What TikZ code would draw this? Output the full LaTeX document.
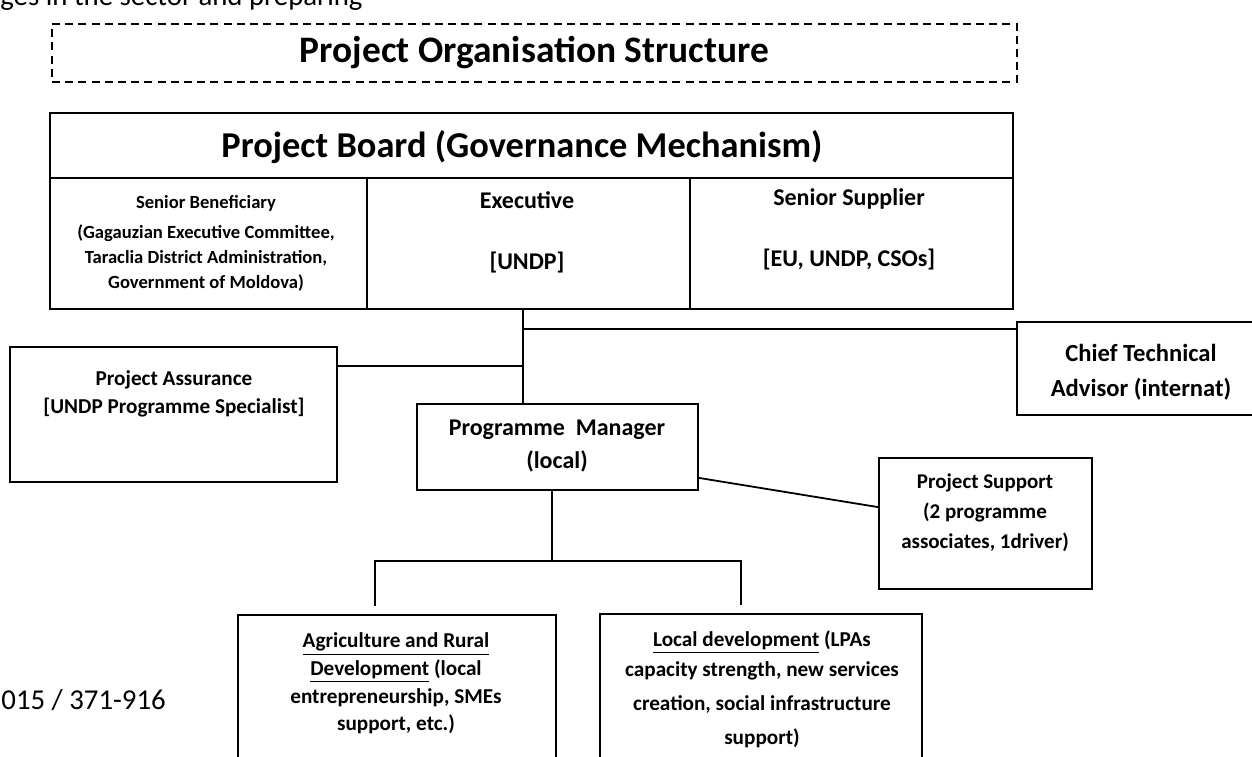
\documentclass[tikz,border=0pt]{standalone}
\usepackage{fontspec}
\setmainfont{Carlito}
\begin{document}
\begin{tikzpicture}[x=0.5pt,y=-0.5pt]

% one pixel of the scanned page
\def\px{0.5pt}
% node style definition
\tikzstyle{box} = [
	draw, rectangle, line width=0.9pt, inner sep=0pt ];
\tikzstyle{dashbox} = [box, dash pattern=on 4pt off 2.6pt];
\tikzstyle{plain} = [draw=none, fill=none, align=center, inner sep=0pt];
\tikzstyle{conn} = [line width=0.9pt];

\useasboundingbox (0,0) rectangle (1252,756);
\clip (0,0) rectangle (1252,756);

% bits of the page text around the chart
\node[plain, anchor=base west, font=\fontsize{14.4}{17}\selectfont] (pagetop) at (0,5) {ges in the sector and preparing};
\node[plain, anchor=west, font=\fontsize{14.4}{17}\selectfont] (pagenum) at (1,700) {015 / 371-916};

\node[dashbox, minimum width=965*\px, minimum height=58*\px,
	font=\fontsize{18.7}{22}\selectfont\bfseries] (title) at (534.5,53) {Project Organisation Structure};

% project board
\node[box, minimum width=963*\px, minimum height=65*\px] (board) at (531.5,145.5) {};
\node[plain, font=\fontsize{18.2}{21}\selectfont\bfseries] (boardT) at (522,147) {Project Board (Governance Mechanism)};
\node[box, minimum width=317*\px, minimum height=131*\px] (benef) at (208.5,243.5) {};
\node[box, minimum width=323*\px, minimum height=131*\px] (exec) at (528.5,243.5) {};
\node[box, minimum width=323*\px, minimum height=131*\px] (suppl) at (851.5,243.5) {};

\node[plain, font=\fontsize{9.3}{12.5}\selectfont\bfseries] (benefT) at (206,243) {Senior Beneficiary\\[2.5pt](Gagauzian Executive Committee,\\Taraclia District Administration,\\Government of Moldova)};
\node[plain, font=\fontsize{12}{30.5}\selectfont\bfseries] (execT) at (527,232.5) {Executive\\{[UNDP]}};
\node[plain, font=\fontsize{12}{30.5}\selectfont\bfseries] (supplT) at (849,229.5) {Senior Supplier\\{[EU, UNDP, CSOs]}};

% staff boxes
\node[box, minimum width=327*\px, minimum height=135*\px] (assur) at (173.5,414.5) {};
\node[plain, font=\fontsize{10.6}{14}\selectfont\bfseries] (assurT) at (174,394) {Project Assurance\\{[UNDP Programme Specialist]}};

\node[box, minimum width=283*\px, minimum height=93*\px] (cta) at (1158.5,368.5) {};
\node[plain, font=\fontsize{12.3}{17.5}\selectfont\bfseries] (ctaT) at (1141,372.5) {Chief Technical\\Advisor (internat)};

\node[box, minimum width=281*\px, minimum height=86*\px] (pm) at (557.5,447) {};
\node[plain, font=\fontsize{12}{16.5}\selectfont\bfseries] (pmT) at (557,446.5) {Programme\ \ Manager\\(local)};

\node[box, minimum width=213*\px, minimum height=131*\px] (supp) at (985.5,523.5) {};
\node[plain, font=\fontsize{10.5}{15}\selectfont\bfseries] (suppT) at (985,513) {Project Support\\(2 programme\\associates, 1driver)};

% components
\node[box, minimum width=318*\px, minimum height=240*\px] (agri) at (397,735) {};
\node[plain, font=\fontsize{10.6}{13.8}\selectfont\bfseries] (agriT) at (396,683.5) {\underline{Agriculture and Rural}\\\underline{Development} (local\\entrepreneurship, SMEs\\support, etc.)};

\node[box, minimum width=322*\px, minimum height=240*\px] (local) at (761,734) {};
\node[plain, font=\fontsize{10.6}{15}\selectfont\bfseries] (localT) at (762,689) {\underline{Local development} (LPAs\\capacity strength, new services\\[2pt]creation, social infrastructure\\[2pt]support)};

\draw[conn] ([xshift=-5.5*\px]exec.south) -- ([xshift=-5.5*\px]exec.south |- pm.north);
\draw[conn] ([yshift=-8*\px]cta.north west) -| ([xshift=-5.5*\px]exec.south);
\draw[conn] ([yshift=-20*\px]assur.north east) -| ([xshift=-5.5*\px]exec.south);
\draw[conn] ([yshift=13*\px]pm.south east) -- ([yshift=-50*\px]supp.north west);

\draw[conn] ([xshift=-5.5*\px]pm.south) -- ++(0,70) -| ([xshift=-22*\px, yshift=8*\px]agri.north);
\draw[conn] ([xshift=-5.5*\px]pm.south) -- ++(0,70) -| ([xshift=-20*\px, yshift=8*\px]local.north);

\end{tikzpicture}
\end{document}
